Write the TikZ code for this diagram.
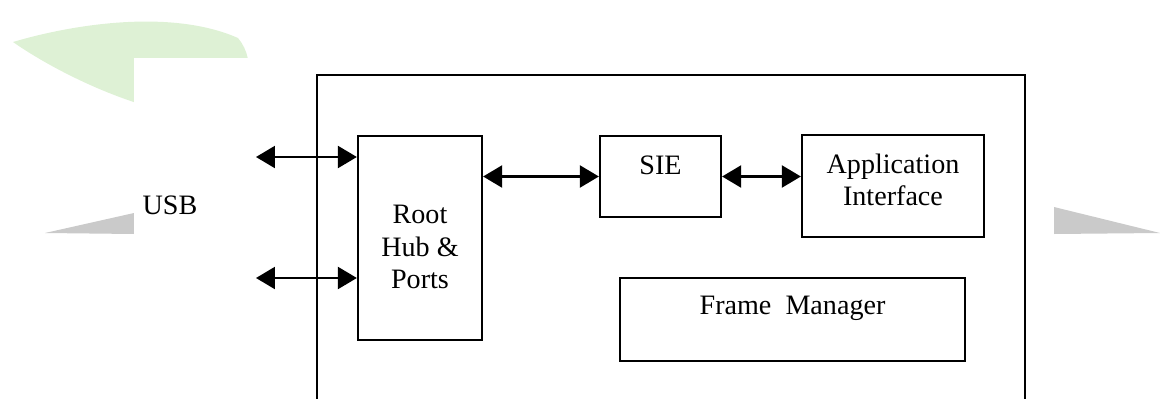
\documentclass[tikz,border=0pt]{standalone}
\usepackage{fontspec}
\setmainfont{Liberation Serif}
\usetikzlibrary{arrows.meta, positioning, calc}
\definecolor{wmGreen}{HTML}{DEF1D5}
\definecolor{wmGray}{HTML}{CACACA}
\tikzset{
    % Block and text styles
    block/.style={rectangle,draw=black,line width=1.3pt,inner sep=0pt},
    lbl/.style={font=\fontsize{16}{18.5}\selectfont,align=center,inner sep=0pt},
    % Flow styles
    biflow/.style={{Triangle[length=0.38cm,width=0.44cm]}-{Triangle[length=0.38cm,width=0.44cm]},line width=1.3pt},
    frameline/.style={line width=1.3pt}
}

\begin{document}
\begin{tikzpicture}[x=0.02cm, y=-0.02cm]
    \useasboundingbox (0,0) rectangle (1160,399);

    % Watermark behind the figure
    \fill[wmGreen] (13,42) .. controls (70,25) and (170,8) .. (238,38)
        .. controls (258,62) and (250,100) .. (215,117)
        .. controls (150,118) and (60,75) .. cycle;
    \fill[wmGray] (45,233) -- (134,213) -- (134,234) -- cycle;
    \fill[wmGray] (1054,207) -- (1160,233) -- (1054,234) -- cycle;
    \fill[white] (134,58) rectangle (1054,399);

    % Host controller outline (open at the bottom)
    \coordinate (hcbl) at (317,399);
    \coordinate (hctl) at (317,75);
    \coordinate (hctr) at (1025,75);
    \coordinate (hcbr) at (1025,399);
    \draw[frameline] (hcbl) -- (hctl) -- (hctr) -- (hcbr);

    % Blocks
    \node[block, minimum width=2.48cm, minimum height=4.08cm] (root) at (420,238) {};
    \node[block, minimum width=2.42cm, minimum height=1.62cm] (sie) at (660.5,176.5) {};
    \node[block, minimum width=3.64cm, minimum height=2.04cm] (app) at (893,186) {};
    \node[block, minimum width=6.9cm, minimum height=1.66cm] (frame) at (792.5,319.5) {};

    % Block texts
    \node[lbl] (roottxt) at ([yshift=-0.18cm]root.center) {Root\\Hub \&\\Ports};
    \node[lbl] (sietxt) at ([yshift=0.22cm]sie.center) {SIE};
    \node[lbl] (apptxt) at ([yshift=0.12cm]app.center) {Application\\Interface};
    \node[lbl] (frametxt) at ([yshift=0.22cm]frame.center) {Frame\ \ Manager};
    \node[lbl] (usb) at (170,205) {USB};

    % Bus ports
    \coordinate (porta) at (256,157);
    \coordinate (portb) at (256,278);
    \draw[biflow] (porta) -- (porta -| root.west);
    \draw[biflow] (portb) -- (portb -| root.west);

    % Internal links
    \draw[biflow] (root.east |- sie.west) -- (sie.west);
    \draw[biflow] (sie.east) -- (sie.east -| app.west);
\end{tikzpicture}
\end{document}
